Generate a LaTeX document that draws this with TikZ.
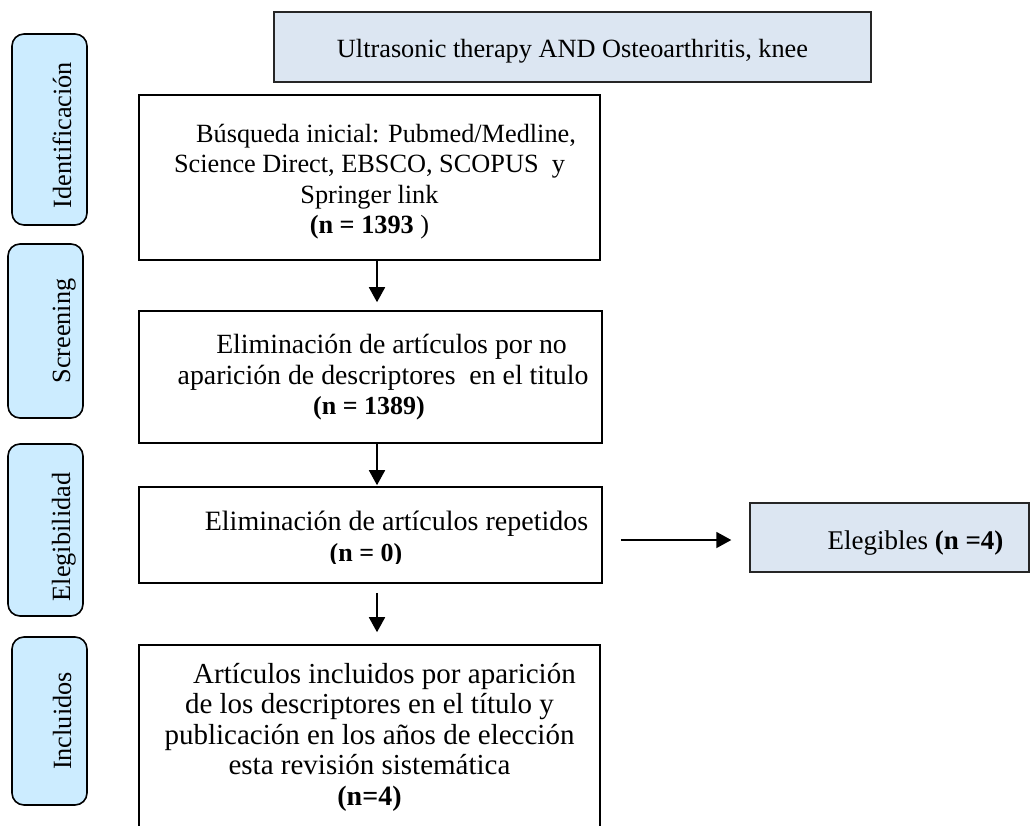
\documentclass[tikz,border=0pt]{standalone}
\usepackage{fontspec}
\setmainfont{Liberation Serif}
\usetikzlibrary{arrows.meta}
\definecolor{sidefill}{HTML}{CCECFF}
\definecolor{boxfill}{HTML}{DCE6F2}
\newcommand{\fs}[1]{\fontsize{#1}{30.5}\selectfont}
\begin{document}
\begin{tikzpicture}[x=1pt,y=-1pt,
  every node/.style={font=\fontsize{26.3}{30.5}\selectfont, inner sep=0pt},
  stage/.style={draw, line width=1.6pt, rounded corners=12pt, fill=sidefill, minimum width=75pt},
  stagetext/.style={rotate=90, anchor=base},
  mainbox/.style={draw, line width=1.6pt, rectangle},
  infobox/.style={draw=black!85, line width=1.4pt, fill=boxfill, rectangle},
  bodytext/.style={align=center},
  arr/.style={line width=1.8pt, -{Triangle[width=16pt,length=15pt]}}
]
\useasboundingbox (0,0) rectangle (1031,825);

% stage boxes
\node[stage, minimum height=191pt] (s1) at (49.5,129.5) {};
\node[stagetext] (s1t) at (71,135) {Identificación};
\node[stage, minimum height=174pt] (s2) at (45.5,331) {};
\node[stagetext] (s2t) at (70,331) {Screening};
\node[stage, minimum height=172pt] (s3) at (45.5,530) {};
\node[stagetext] (s3t) at (70,537) {Elegibilidad};
\node[stage, minimum height=168pt] (s4) at (49.5,721) {};
\node[stagetext] (s4t) at (71,721) {Incluidos};

% top query box
\node[infobox, minimum width=597pt, minimum height=70pt] (t0) at (572.5,47) {};
\node[anchor=base] (t0t) at (572.5,57) {Ultrasonic therapy AND Osteoarthritis, knee};

% main boxes
\node[mainbox, minimum width=461pt, minimum height=165pt] (b1) at (369.5,177.5) {};
\node[bodytext] (b1t) at (369.5,181.5) {\hspace*{33pt}Búsqueda inicial: Pubmed/Medline,\\ Science Direct, EBSCO, SCOPUS\ \ y\\ Springer link\\ \textbf{(n = 1393} )};

\node[mainbox, minimum width=463pt, minimum height=132pt] (b2) at (370.5,377) {};
\node[bodytext, font=\fs{27.8}] (b2t) at (369,377.5) {\hspace*{45pt}Eliminación de artículos por no\\ \hspace*{28pt}aparición de descriptores\ \ en el titulo\\ {\fs{26}\textbf{(n = 1389)}}};

\node[mainbox, minimum width=463pt, minimum height=96pt] (b3) at (370.5,535) {};
\begin{scope}
\clip (139,487) rectangle (602,563);
\node[bodytext, font=\fs{28}] (b3t) at (366,539) {\hspace*{61pt}Eliminación de artículos repetidos\\ {\fs{26}\textbf{(n = 0)}}};
\end{scope}

\node[mainbox, minimum width=461pt, minimum height=225pt] (b4) at (369.5,757.5) {};
\node[bodytext, font=\fs{29}] (b4t) at (369.5,737) {\hspace*{30pt}Artículos incluidos por aparición\\ de los descriptores en el título y\\ publicación en los años de elección\\ esta revisión sistemática\\ {\fs{28}\textbf{(n=4)}}};

% eligible box
\node[infobox, minimum width=279pt, minimum height=69pt] (b5) at (889.5,537.5) {};
\node[anchor=base, font=\fs{27}] (b5t) at (915.5,549) {Elegibles \textbf{(n =4)}};

% connectors
\draw[arr, shorten >=8pt] ([xshift=7.5pt]b1.south) -- ([xshift=6.5pt]b2.north);
\draw[arr, shorten >=1pt] ([xshift=6.5pt]b2.south) -- ([xshift=6.5pt]b3.north);
\draw[arr, shorten <=9pt, shorten >=12pt] ([xshift=6.5pt]b3.south) -- ([xshift=7.5pt]b4.north);
\draw[arr, shorten <=18pt, shorten >=18pt] ([yshift=-5pt]b3.east) -- ([yshift=-5pt]b3.east -| b5.west);
\end{tikzpicture}
\end{document}
